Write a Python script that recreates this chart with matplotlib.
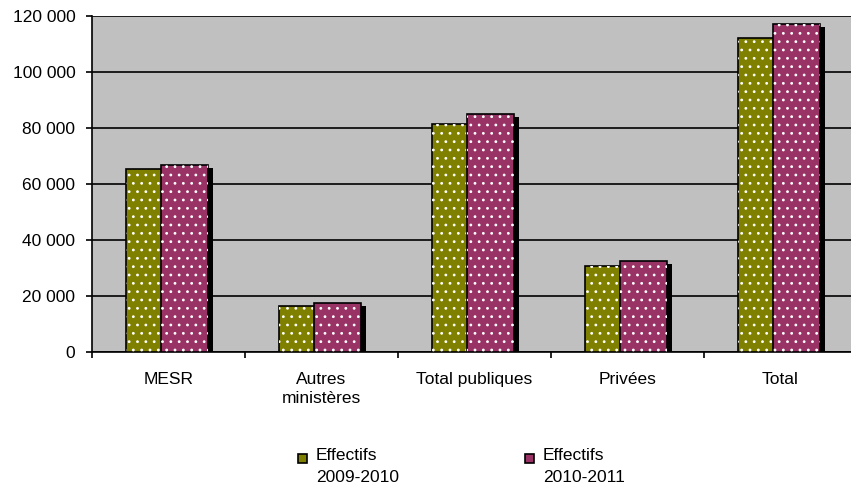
import matplotlib
matplotlib.use('Agg')
import matplotlib.pyplot as plt
import matplotlib.transforms as mtransforms
from matplotlib.patches import Rectangle
from matplotlib.ticker import FuncFormatter, MultipleLocator
import numpy as np

plt.rcParams['font.family'] = ['Liberation Sans', 'DejaVu Sans']
plt.rcParams['font.size'] = 12.5
plt.rcParams['hatch.linewidth'] = 0.8

# données
categories = ['MESR', 'Autres\nministères', 'Total publiques', 'Privées', 'Total']
effectifs_2009 = [65300, 16600, 81400, 30800, 112200]
effectifs_2010 = [67000, 17700, 85000, 32600, 117400]
series_labels = ['Effectifs\n2009-2010', 'Effectifs\n2010-2011']

vert = '#808000'
rose = '#993366'

fig = plt.figure(figsize=(8.51, 4.96), dpi=100)
ax = fig.add_axes([92 / 851, 1 - 352.3 / 496, 765 / 851, 336 / 496])
ax.set_facecolor('#c0c0c0')

x = np.arange(len(categories))
w = 47 / 153
off1 = -42.5 / 153 + w / 2
off2 = off1 + 35 / 153

# ombre portée
shadow = ax.transData + mtransforms.ScaledTranslation(5 / 100, -3 / 100, fig.dpi_scale_trans)

for off, vals, col in [(off1, effectifs_2009, vert), (off2, effectifs_2010, rose)]:
    ax.bar(x + off, vals, w, color='black', transform=shadow, zorder=2)
    ax.bar(x + off, vals, w, color=col, edgecolor='black', linewidth=1.2, zorder=3)
    ax.bar(x + off, vals, w, facecolor='none', edgecolor='white', linewidth=0,
           hatch='..', zorder=3)

ax.set_xlim(-0.5, len(categories) - 0.5)
ax.set_ylim(0, 120000)
ax.yaxis.set_major_locator(MultipleLocator(20000))
ax.yaxis.set_major_formatter(FuncFormatter(lambda v, p: '0' if v == 0 else f'{int(v):,}'.replace(',', ' ')))
ax.grid(axis='y', color='black', linewidth=1.2, zorder=1)
ax.set_axisbelow(True)

ax.set_xticks(x)
ax.set_xticklabels(categories, linespacing=1.35)
ax.set_xticks(np.arange(len(categories) + 1) - 0.5, minor=True)
ax.tick_params(axis='x', which='major', length=0, pad=14)
ax.tick_params(axis='x', which='minor', length=4, width=1.2, direction='out')
ax.tick_params(axis='y', length=4, width=1.2, direction='out', pad=8)

for s in ['right', 'top']:
    ax.spines[s].set_visible(False)
for s in ['left', 'bottom']:
    ax.spines[s].set_linewidth(1.2)

# légende
for xl, col, lab in [(298, vert, series_labels[0]), (525, rose, series_labels[1])]:
    fig.patches.append(Rectangle((xl / 851, 1 - 463 / 496), 9 / 851, 9 / 496,
                                 transform=fig.transFigure, facecolor=col,
                                 edgecolor='black', linewidth=1.2))
    fig.text((xl + 18) / 851, 1 - 448 / 496, lab, ha='left', va='top',
             linespacing=1.6)

fig.savefig('out.png', dpi=100)
